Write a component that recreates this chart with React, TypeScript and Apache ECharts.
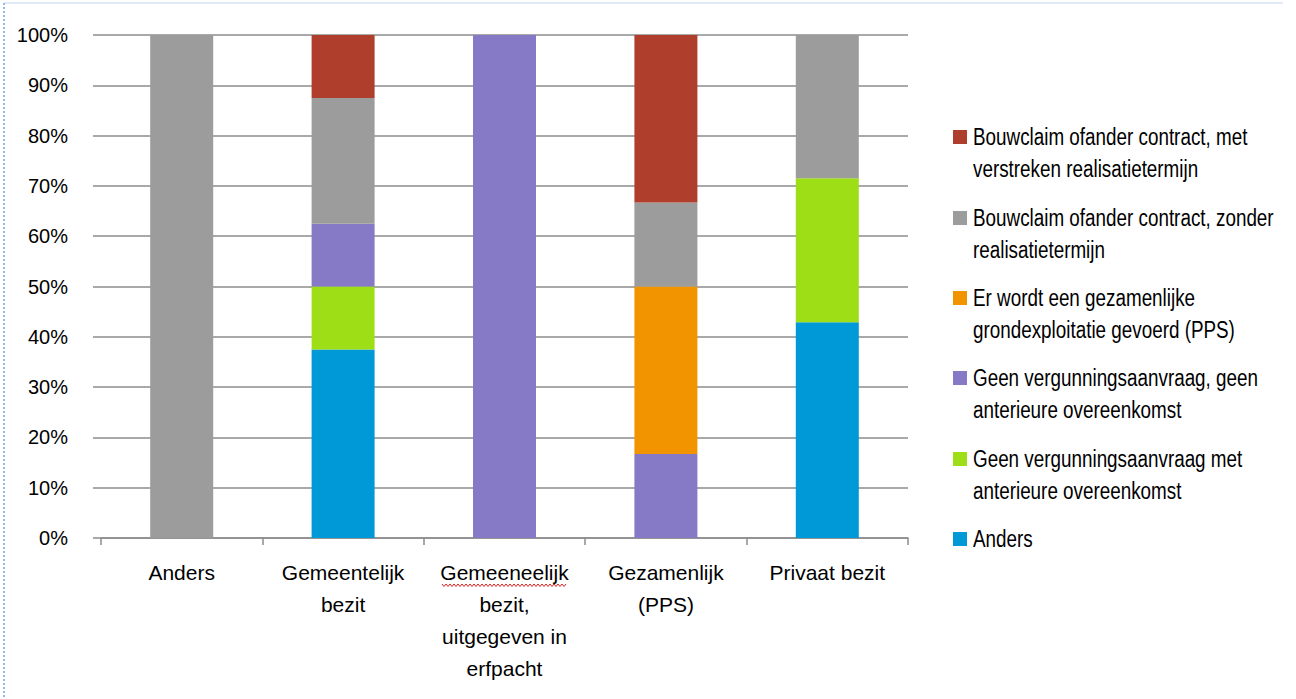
import React, { useEffect, useRef } from "react";
import * as echarts from "echarts";

const categories = [
  "Anders",
  "Gemeentelijk\nbezit",
  "Gemeeneelijk\nbezit,\nuitgegeven in\nerfpacht",
  "Gezamenlijk\n(PPS)",
  "Privaat bezit",
];

const seriesNames = [
  "Anders",
  "Geen vergunningsaanvraag met anterieure overeenkomst",
  "Geen vergunningsaanvraag, geen anterieure overeenkomst",
  "Er wordt een gezamenlijke grondexploitatie gevoerd (PPS)",
  "Bouwclaim ofander contract, zonder realisatietermijn",
  "Bouwclaim ofander contract, met verstreken realisatietermijn",
];

const legendLabels = [
  "Anders",
  "Geen vergunningsaanvraag met\nanterieure overeenkomst",
  "Geen vergunningsaanvraag, geen\nanterieure overeenkomst",
  "Er wordt een gezamenlijke\ngrondexploitatie gevoerd (PPS)",
  "Bouwclaim ofander contract, zonder\nrealisatietermijn",
  "Bouwclaim ofander contract, met\nverstreken realisatietermijn",
];

const seriesColors = ["#0099D8", "#9EDE16", "#8679C6", "#F29400", "#9C9C9C", "#B03E2D"];

const andersValues = [0, 37.5, 0, 0, 42.9];
const geenMetValues = [0, 12.5, 0, 0, 28.6];
const geenGeenValues = [0, 12.5, 100, 16.7, 0];
const ppsValues = [0, 0, 0, 33.3, 0];
const zonderValues = [100, 25, 0, 16.7, 28.5];
const verstrekenValues = [0, 12.5, 0, 33.3, 0];

const seriesValues = [andersValues, geenMetValues, geenGeenValues, ppsValues, zonderValues, verstrekenValues];

const yTicks = [0, 10, 20, 30, 40, 50, 60, 70, 80, 90, 100];

const FONT = '"Liberation Sans", Arial, sans-serif';

export default function App() {
  const ref = useRef<HTMLDivElement>(null);

  useEffect(() => {
    if (!ref.current) return;
    const chart = echarts.init(ref.current, null, { renderer: "svg" });

    const legendCenters = [137, 218, 298, 378, 459, 539];
    const legendGraphics: any[] = [];
    const order = [5, 4, 3, 2, 1, 0];
    order.forEach((si, idx) => {
      const cy = legendCenters[idx];
      legendGraphics.push({
        type: "rect",
        shape: { x: 953, y: cy - 7, width: 14, height: 14 },
        style: { fill: seriesColors[si] },
      });
      legendGraphics.push({
        type: "text",
        x: 973,
        y: cy - 16,
        scaleX: 0.82,
        style: {
          text: legendLabels[si],
          font: `23px ${FONT}`,
          lineHeight: 32,
          fill: "#000",
          verticalAlign: "top",
          align: "left",
        },
      });
    });

    // spell-check squiggle under "Gemeeneelijk"
    const squiggle: number[][] = [];
    for (let x = 442, k = 0; x <= 566; x += 2, k++) squiggle.push([x, k % 2 === 0 ? 584 : 586.5]);

    chart.setOption({
      animation: false,
      backgroundColor: "#fff",
      grid: { left: 101, right: 388, top: 35, bottom: 161, containLabel: false },
      xAxis: {
        type: "category",
        data: categories,
        axisLine: { show: true, lineStyle: { color: "#8c8c8c", width: 1.5 } },
        axisTick: { show: true, length: 7, lineStyle: { color: "#8c8c8c", width: 1.5 } },
        axisLabel: {
          color: "#000",
          fontFamily: FONT,
          fontSize: 21,
          lineHeight: 32,
          margin: 18,
          interval: 0,
        },
      },
      yAxis: {
        type: "value",
        min: 0,
        max: 100,
        interval: 10,
        axisLine: { show: false },
        axisTick: { show: true, length: 8, lineStyle: { color: "#8c8c8c", width: 1.5 } },
        splitLine: { show: true, lineStyle: { color: "#8c8c8c", width: 1.5 } },
        axisLabel: {
          color: "#000",
          fontFamily: FONT,
          fontSize: 20,
          margin: 33,
          formatter: (v: number) => (yTicks.includes(v) ? `${v}%` : ""),
        },
      },
      series: seriesNames.map((name, i) => ({
        name,
        type: "bar",
        stack: "total",
        barWidth: 63,
        data: seriesValues[i],
        itemStyle: { color: seriesColors[i] },
      })),
      graphic: [
        {
          type: "line",
          shape: { x1: 4, y1: 3, x2: 1283, y2: 3 },
          style: { stroke: "#d6e4f7", lineWidth: 1.5 },
        },
        {
          type: "line",
          shape: { x1: 4, y1: 3, x2: 4, y2: 699 },
          style: { stroke: "#6fa3ee", lineWidth: 1.5, lineDash: [2, 2] },
        },
        {
          type: "polyline",
          shape: { points: squiggle },
          style: { stroke: "#e02020", lineWidth: 1, fill: null },
        },
        ...legendGraphics,
      ],
    });

    return () => chart.dispose();
  }, []);

  return (
    <div
      ref={ref}
      style={{ position: "fixed", left: 0, top: 0, width: 1296, height: 699, background: "#fff" }}
    />
  );
}
